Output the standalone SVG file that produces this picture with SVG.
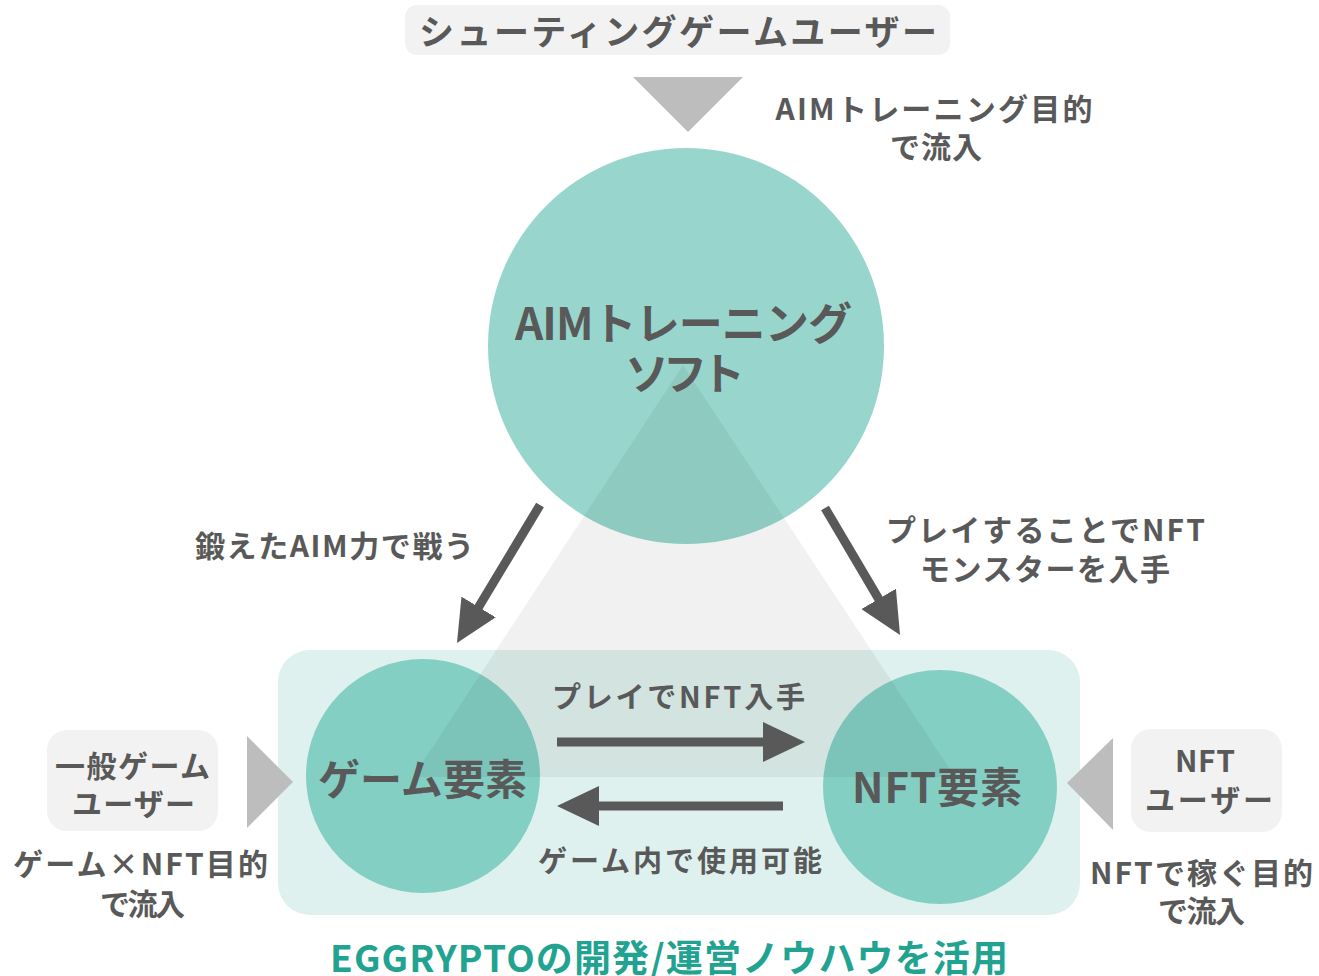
<svg xmlns="http://www.w3.org/2000/svg" width="1319" height="976" viewBox="0 0 1319 976">
<style>
text{font-family:"Noto Sans CJK JP","Noto Sans",sans-serif;font-weight:700;fill:#595959;text-anchor:middle}
.box{fill:#f2f2f2}
.tri{fill:#bdbdbd}
.arrow{stroke:#595959;stroke-width:9;fill:none}
.accent{fill:#22a391}
</style>
<defs>
<marker id="head" viewBox="0 0 42 40" markerUnits="userSpaceOnUse" markerWidth="42" markerHeight="40" refX="2" refY="20" orient="auto">
<path d="M0,0 L42,20 L0,40 z" fill="#595959"/>
</marker>
</defs>
<rect width="1319" height="976" fill="#ffffff"/>

<g id="platform">
<rect x="278" y="650" width="802" height="265" rx="32" fill="#dff1ee"/>
</g>

<g id="aim-soft">
<circle cx="686" cy="346" r="198" fill="#98d6cd"/>
</g>
<g id="game-element">
<circle cx="423" cy="776" r="117" fill="#84cfc4"/>
</g>
<g id="nft-element">
<circle cx="940" cy="787" r="117" fill="#84cfc4"/>
</g>

<g id="overlay">
<polygon points="683,365 413,777 955,777" fill="#000000" fill-opacity="0.055"/>
</g>

<g id="shooter-users">
<rect class="box" x="405" y="5" width="545" height="50" rx="12"/>
<text x="678" y="45" font-size="35" textLength="518">シューティングゲームユーザー</text>
<polygon class="tri" points="633,77 743,77 688,132"/>
<text x="934" y="120" font-size="30" textLength="317">AIMトレーニング目的</text>
<text x="936" y="158" font-size="30" textLength="92">で流入</text>
</g>

<g id="general-users">
<rect class="box" x="47" y="730" width="171" height="101" rx="20"/>
<text x="132.5" y="777" font-size="30" textLength="155">一般ゲーム</text>
<text x="133.5" y="815" font-size="30" textLength="123">ユーザー</text>
<polygon class="tri" points="247,736 293,782 247,828"/>
<text x="140.5" y="875" font-size="30" textLength="255">ゲーム×NFT目的</text>
<text x="142.5" y="915" font-size="30" textLength="85">で流入</text>
</g>

<g id="nft-users">
<rect class="box" x="1131" y="729" width="151" height="103" rx="20"/>
<text x="1205" y="772" font-size="30" textLength="60">NFT</text>
<text x="1209" y="811" font-size="30" textLength="128">ユーザー</text>
<polygon class="tri" points="1113,738 1067,783 1113,830"/>
<text x="1201.5" y="884" font-size="30" textLength="223">NFTで稼ぐ目的</text>
<text x="1201.5" y="922" font-size="30" textLength="87">で流入</text>
</g>

<g id="connectors">
<line class="arrow" x1="540" y1="505" x2="477.6" y2="608.7" marker-end="url(#head)"/>
<line class="arrow" x1="825" y1="508" x2="879.7" y2="600.6" marker-end="url(#head)"/>
<line class="arrow" x1="557" y1="742" x2="765" y2="742" marker-end="url(#head)"/>
<line class="arrow" x1="783" y1="806" x2="597" y2="806" marker-end="url(#head)"/>
</g>

<g id="labels">
<text x="683.5" y="340" font-size="44" textLength="337">AIMトレーニング</text>
<text x="685" y="390" font-size="44" textLength="120">ソフト</text>
<text x="422.5" y="795" font-size="42" textLength="209">ゲーム要素</text>
<text x="937" y="803" font-size="42" textLength="170">NFT要素</text>
<text x="334.5" y="557" font-size="30" textLength="279">鍛えたAIM力で戦う</text>
<text x="1045.5" y="541" font-size="30" textLength="319">プレイすることでNFT</text>
<text x="1045" y="580" font-size="30" textLength="250">モンスターを入手</text>
<text x="678.5" y="708" font-size="29" textLength="253">プレイでNFT入手</text>
<text x="680" y="872" font-size="29" textLength="284">ゲーム内で使用可能</text>
<text class="accent" x="669" y="972" font-size="37" textLength="678">EGGRYPTOの開発/運営ノウハウを活用</text>
</g>
</svg>
